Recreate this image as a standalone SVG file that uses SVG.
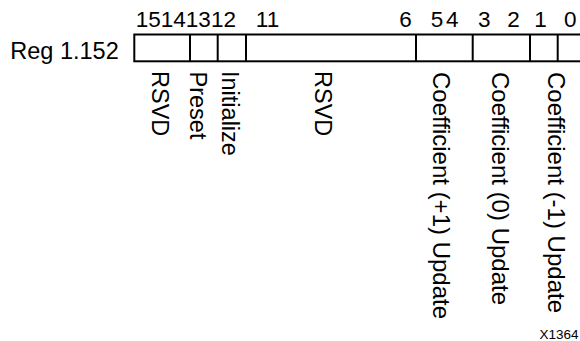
<svg xmlns="http://www.w3.org/2000/svg" width="580" height="341" viewBox="0 0 580 341">
<style>
text{font-family:"Liberation Sans",Arial,sans-serif;fill:#000}
.lbl{font-size:23.5px}
.num{font-size:22.5px}
.v{font-size:23.5px}
.vc{font-size:24px}
.box{fill:#fff;stroke:#000;stroke-width:2}
.div{stroke:#000;stroke-width:2}
</style>
<rect width="580" height="341" fill="#fff"/>
<g id="register">
<text class="lbl" x="10.3" y="58.5">Reg 1.152</text>
<rect class="box" x="134.3" y="34.5" width="452" height="26.8"/>
<line class="div" x1="190" y1="34.5" x2="190" y2="61.3"/>
<line class="div" x1="217.7" y1="34.5" x2="217.7" y2="61.3"/>
<line class="div" x1="246" y1="34.5" x2="246" y2="61.3"/>
<line class="div" x1="416" y1="34.5" x2="416" y2="61.3"/>
<line class="div" x1="472.7" y1="34.5" x2="472.7" y2="61.3"/>
<line class="div" x1="530" y1="34.5" x2="530" y2="61.3"/>
<line class="div" x1="557.7" y1="34.5" x2="557.7" y2="61.3"/>
</g>
<g id="bit-numbers">
<text class="num" x="135.8" y="26.5">15141312</text>
<text class="num" x="255.8" y="26.5">11</text>
<text class="num" x="399.2" y="26.5">6</text>
<text class="num" x="430.8" y="26.5">5</text>
<text class="num" x="446.1" y="26.5">4</text>
<text class="num" x="478.1" y="26.5">3</text>
<text class="num" x="507.3" y="26.5">2</text>
<text class="num" x="534.2" y="26.5">1</text>
<text class="num" x="564.1" y="26.5">0</text>
</g>
<g id="field-rsvd-15-14"><text class="v" transform="translate(151.5,71) rotate(90)">RSVD</text></g>
<g id="field-preset"><text class="v" transform="translate(190,71.5) rotate(90)">Preset</text></g>
<g id="field-initialize"><text class="v" transform="translate(221.5,71) rotate(90)">Initialize</text></g>
<g id="field-rsvd-11-6"><text class="v" transform="translate(314.5,71) rotate(90)">RSVD</text></g>
<g id="field-coef-p1"><text class="vc" transform="translate(433,72) rotate(90)">Coefficient (+1) Update</text></g>
<g id="field-coef-0"><text class="vc" transform="translate(491.5,72) rotate(90)">Coefficient (0) Update</text></g>
<g id="field-coef-m1"><text class="vc" transform="translate(548,72) rotate(90)">Coefficient (-1) Update</text></g>
<g id="connectors"></g>
<text x="539.5" y="338.5" style="font-size:13.5px">X1364</text>
</svg>
